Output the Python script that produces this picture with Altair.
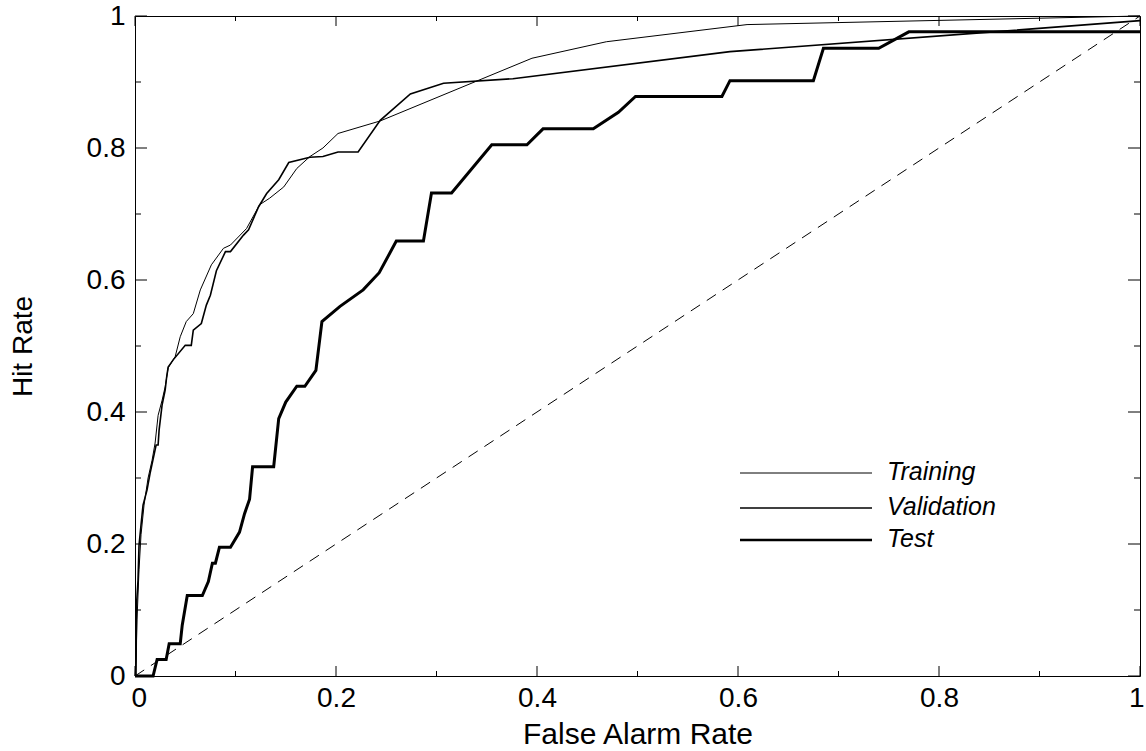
import altair as alt
import pandas as pd

# ---------------- data ----------------
train_x = [0, 0.001, 0.002, 0.004, 0.006, 0.009, 0.013, 0.017, 0.020, 0.023,
           0.027, 0.030, 0.033, 0.040, 0.045, 0.051, 0.058, 0.065, 0.076, 0.088,
           0.095, 0.111, 0.124, 0.134, 0.148, 0.161, 0.174, 0.187, 0.202, 0.244,
           0.395, 0.469, 0.609, 1.0]
train_y = [0, 0.024, 0.085, 0.161, 0.214, 0.259, 0.300, 0.327, 0.353, 0.395,
           0.418, 0.438, 0.467, 0.484, 0.514, 0.537, 0.549, 0.585, 0.623, 0.648,
           0.653, 0.678, 0.714, 0.724, 0.741, 0.769, 0.787, 0.800, 0.822, 0.841,
           0.936, 0.961, 0.987, 1.0]

val_x = [0, 0.001, 0.0015, 0.003, 0.004, 0.006, 0.008, 0.012, 0.015, 0.021,
         0.023, 0.024, 0.027, 0.030, 0.0315, 0.033, 0.038, 0.050, 0.056, 0.058,
         0.066, 0.071, 0.075, 0.081, 0.090, 0.095, 0.108, 0.113, 0.123, 0.131,
         0.143, 0.153, 0.174, 0.187, 0.202, 0.222, 0.244, 0.274, 0.307, 0.376,
         0.592, 0.854, 1.0]
val_y = [0, 0, 0.108, 0.145, 0.198, 0.229, 0.259, 0.282, 0.307, 0.350,
         0.350, 0.373, 0.411, 0.433, 0.453, 0.468, 0.479, 0.501, 0.501, 0.524,
         0.534, 0.562, 0.577, 0.614, 0.643, 0.643, 0.668, 0.676, 0.711, 0.731,
         0.752, 0.778, 0.786, 0.787, 0.794, 0.794, 0.842, 0.882, 0.898, 0.905,
         0.946, 0.976, 0.993]

test_x = [0, 0.018, 0.022, 0.031, 0.034, 0.045, 0.047, 0.052, 0.067, 0.073,
          0.077, 0.080, 0.084, 0.095, 0.104, 0.109, 0.114, 0.117, 0.138, 0.143,
          0.150, 0.161, 0.169, 0.180, 0.186, 0.204, 0.227, 0.243, 0.260, 0.287,
          0.295, 0.315, 0.355, 0.390, 0.406, 0.456, 0.481, 0.498, 0.584, 0.592,
          0.675, 0.685, 0.740, 0.770, 1.0]
test_y = [0, 0, 0.025, 0.025, 0.049, 0.049, 0.077, 0.122, 0.122, 0.143,
          0.171, 0.171, 0.195, 0.195, 0.218, 0.246, 0.268, 0.317, 0.317, 0.390,
          0.415, 0.439, 0.439, 0.463, 0.537, 0.560, 0.585, 0.611, 0.659, 0.659,
          0.732, 0.732, 0.805, 0.805, 0.829, 0.829, 0.854, 0.878, 0.878, 0.902,
          0.902, 0.951, 0.951, 0.976, 0.976]

diag_x = [0, 1]
diag_y = [0, 1]

series_names = ["Training", "Validation", "Test"]
major_ticks = [0, 0.2, 0.4, 0.6, 0.8, 1]
minor_ticks = [0.1, 0.3, 0.5, 0.7, 0.9]

# ---------------- layout / style ----------------
W, H = 1005, 660
FONT = "Liberation Sans"
line_widths = {"Training": 1.0, "Validation": 1.6, "Test": 3.0}
legend_widths = {"Training": 1.0, "Validation": 1.5, "Test": 2.6}
legend_rows = {"Training": 457, "Validation": 492, "Test": 524}
LEG_X1, LEG_X2, LEG_TX = 605, 737, 752

xs = alt.Scale(domain=[0, 1], nice=False, zero=False)
ys = alt.Scale(domain=[0, 1], nice=False, zero=False)

x_axis = alt.Axis(values=major_ticks, format="~g", ticks=False, domain=False, grid=False,
                  labelFont=FONT, labelFontSize=28, labelColor="black", labelPadding=8,
                  labelFlush=True, labelFlushOffset=4, title="False Alarm Rate", titleFont=FONT,
                  titleFontSize=30, titleFontWeight="normal", titleColor="black",
                  titleX=W / 2, titleY=58, titleBaseline="middle", titleAlign="center")
y_axis = alt.Axis(values=major_ticks, format="~g", ticks=False, domain=False, grid=False,
                  labelFont=FONT, labelFontSize=28, labelColor="black", labelPadding=10,
                  labelFlush=False, title="Hit Rate", titleFont=FONT,
                  titleFontSize=28, titleFontWeight="normal", titleColor="black",
                  titleX=-112, titleY=H / 2, titleAngle=270, titleBaseline="middle",
                  titleAlign="center")


def X(field):
    return alt.X(field, type="quantitative", scale=xs, axis=x_axis)


def Y(field):
    return alt.Y(field, type="quantitative", scale=ys, axis=y_axis)


def curve(name, xv, yv):
    df = pd.DataFrame({"x": xv, "y": yv, "i": list(range(len(xv)))})
    return alt.Chart(df).mark_line(color="black", strokeWidth=line_widths[name],
                                   strokeJoin="miter").encode(
        x=X("x"), y=Y("y"), order=alt.Order("i:Q"))


diag = alt.Chart(pd.DataFrame({"x": diag_x, "y": diag_y})).mark_line(
    color="black", strokeWidth=1, strokeDash=[11, 8]).encode(x=X("x"), y=Y("y"))

layers = [diag,
          curve("Training", train_x, train_y),
          curve("Validation", val_x, val_y),
          curve("Test", test_x, test_y)]

# inward ticks on all four sides
for vals, lx, ly in [(major_ticks, 10, 12), (minor_ticks, 5, 6)]:
    tdf = pd.DataFrame({"v": vals})
    base = alt.Chart(tdf).mark_rule(color="black", strokeWidth=1)
    layers.append(base.encode(x=X("v"), y=alt.value(H), y2=alt.value(H - lx)))
    layers.append(base.encode(x=X("v"), y=alt.value(0), y2=alt.value(lx)))
    layers.append(base.encode(y=Y("v"), x=alt.value(0), x2=alt.value(ly)))
    layers.append(base.encode(y=Y("v"), x=alt.value(W), x2=alt.value(W - ly)))

# legend drawn inside the plot
for name in series_names:
    ldf = pd.DataFrame({"name": [name]})
    layers.append(alt.Chart(ldf).mark_rule(color="black", strokeWidth=legend_widths[name]).encode(
        x=alt.value(LEG_X1), x2=alt.value(LEG_X2), y=alt.value(legend_rows[name])))
    layers.append(alt.Chart(ldf).mark_text(align="left", baseline="middle", font=FONT,
                                           fontSize=25, fontStyle="italic", color="black").encode(
        x=alt.value(LEG_TX), y=alt.value(legend_rows[name] - 1), text="name:N"))

chart = alt.layer(*layers).properties(
    width=W, height=H,
    padding={"left": 135, "top": 16, "right": 6, "bottom": 75},
    autosize=alt.AutoSizeParams(type="none"),
    background="white",
).configure_view(stroke="black", strokeWidth=1)

chart.save("out.html", embed_options={"renderer": "svg", "actions": False})
